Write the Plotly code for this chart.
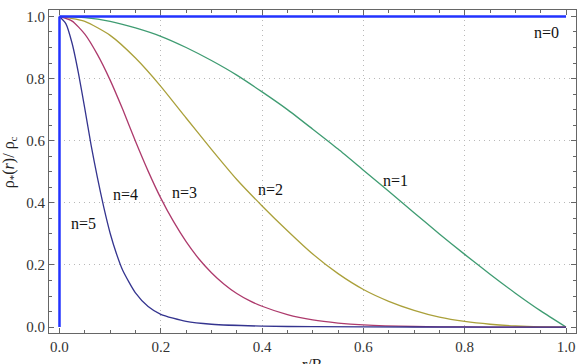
import plotly.graph_objects as go

# ---- data ----
x_n1 = [0, 0.05, 0.1, 0.15, 0.2, 0.25, 0.3, 0.35, 0.4, 0.45, 0.5, 0.55, 0.6, 0.65, 0.7, 0.75, 0.8, 0.85, 0.9, 0.95, 1.0]
y_n1 = [1, 0.996, 0.984, 0.963, 0.936, 0.900, 0.858, 0.811, 0.757, 0.700, 0.637, 0.573, 0.505, 0.437, 0.368, 0.300, 0.234, 0.170, 0.109, 0.052, 0.0]

x_n2 = [0, 0.05, 0.1, 0.15, 0.2, 0.25, 0.3, 0.35, 0.4, 0.45, 0.5, 0.55, 0.6, 0.65, 0.7, 0.75, 0.8, 0.85, 0.9, 0.95, 1.0]
y_n2 = [1, 0.984, 0.939, 0.866, 0.775, 0.673, 0.572, 0.475, 0.390, 0.310, 0.235, 0.172, 0.121, 0.083, 0.054, 0.032, 0.018, 0.009, 0.0035, 0.0008, 0.0]

x_n3 = [0, 0.025, 0.05, 0.075, 0.1, 0.125, 0.15, 0.175, 0.2, 0.225, 0.25, 0.275, 0.3, 0.325, 0.35, 0.375, 0.4, 0.45, 0.5, 0.55, 0.6, 0.7, 0.8, 0.9, 1.0]
y_n3 = [1, 0.985, 0.943, 0.877, 0.795, 0.700, 0.598, 0.502, 0.415, 0.340, 0.275, 0.220, 0.175, 0.138, 0.108, 0.085, 0.067, 0.040, 0.023, 0.013, 0.007, 0.0018, 0.0003, 0.0, 0.0]

x_n4 = [0, 0.0125, 0.025, 0.0375, 0.05, 0.0625, 0.075, 0.0875, 0.1, 0.1125, 0.125, 0.15, 0.175, 0.2, 0.25, 0.3, 0.4, 0.5, 0.7, 1.0]
y_n4 = [1, 0.977, 0.913, 0.817, 0.703, 0.585, 0.480, 0.385, 0.302, 0.236, 0.182, 0.110, 0.066, 0.041, 0.018, 0.009, 0.003, 0.0012, 0.0002, 0.0]

x_n0 = [0, 1]
y_n0 = [1, 1]
x_n5 = [0, 0]
y_n5 = [0, 1]

labels = ["n=0", "n=1", "n=2", "n=3", "n=4", "n=5"]
label_x = [0.961, 0.663, 0.416, 0.2475, 0.131, 0.047]
label_y = [0.948, 0.472, 0.443, 0.434, 0.427, 0.335]

major_ticks = [0.0, 0.2, 0.4, 0.6, 0.8, 1.0]
tick_text = ["0.0", "0.2", "0.4", "0.6", "0.8", "1.0"]
grid_vals = [0.2, 0.4, 0.6, 0.8]

# ---- figure ----
fig = go.Figure()
curves = [
    (x_n1, y_n1, "#3f9c72"),
    (x_n2, y_n2, "#aaa03a"),
    (x_n3, y_n3, "#ad3a6c"),
    (x_n4, y_n4, "#34348f"),
]
for xs, ys, c in curves:
    fig.add_trace(go.Scatter(x=xs, y=ys, mode="lines",
                             line=dict(color=c, width=1.3, shape="spline", smoothing=0.6),
                             showlegend=False, hoverinfo="skip"))
for xs, ys in [(x_n0, y_n0), (x_n5, y_n5)]:
    fig.add_trace(go.Scatter(x=xs, y=ys, mode="lines",
                             line=dict(color="#2233ff", width=2.5),
                             showlegend=False, hoverinfo="skip"))

font_family = "Liberation Serif"
for t, lx, ly in zip(labels, label_x, label_y):
    fig.add_annotation(x=lx, y=ly, text=t, showarrow=False,
                       font=dict(family=font_family, size=16, color="#111"))

xr = [-0.0207, 1.0197]
yr = [-0.0191, 1.0207]
axis_common = dict(
    showline=True, mirror="ticks", linecolor="#666", linewidth=1,
    ticks="inside", ticklen=5, tickcolor="#666", tickwidth=1,
    showgrid=False, zeroline=False,
    tickfont=dict(family=font_family, size=15, color="#333"),
    tickvals=major_ticks, ticktext=tick_text,
    minor=dict(ticks="inside", ticklen=3, tickcolor="#666", dtick=0.05, tick0=0, showgrid=False),
)
fig.update_layout(
    width=586, height=364,
    margin=dict(l=49, r=10, t=9, b=29),
    paper_bgcolor="white", plot_bgcolor="white",
    font=dict(family=font_family),
    xaxis=dict(range=xr, **axis_common),
    yaxis=dict(range=yr, **axis_common),
    xaxis2=dict(range=xr, overlaying="x", tickvals=grid_vals, showticklabels=False,
                showgrid=True, gridcolor="#b8b8b8", griddash="1px,4px", gridwidth=1,
                zeroline=False, showline=False, ticks=""),
    yaxis2=dict(range=yr, overlaying="y", tickvals=grid_vals, showticklabels=False,
                showgrid=True, gridcolor="#b8b8b8", griddash="1px,4px", gridwidth=1,
                zeroline=False, showline=False, ticks=""),
)
# grid carrier trace (invisible) for overlay axes
fig.add_trace(go.Scatter(x=[None], y=[None], xaxis="x2", yaxis="y2", showlegend=False))

fig.add_annotation(xref="paper", yref="paper", x=0.5, y=-0.066, xanchor="center", yanchor="top",
                   text="r/R", showarrow=False,
                   font=dict(family=font_family, size=16, color="#222"))
fig.add_annotation(xref="paper", yref="paper", x=-0.075, y=0.53, xanchor="center", yanchor="middle",
                   text="ρ<sub>*</sub>(<i>r</i>)/ ρ<sub>c</sub>", textangle=-90, showarrow=False,
                   font=dict(family=font_family, size=16, color="#222"))

fig.write_html("out.html")
